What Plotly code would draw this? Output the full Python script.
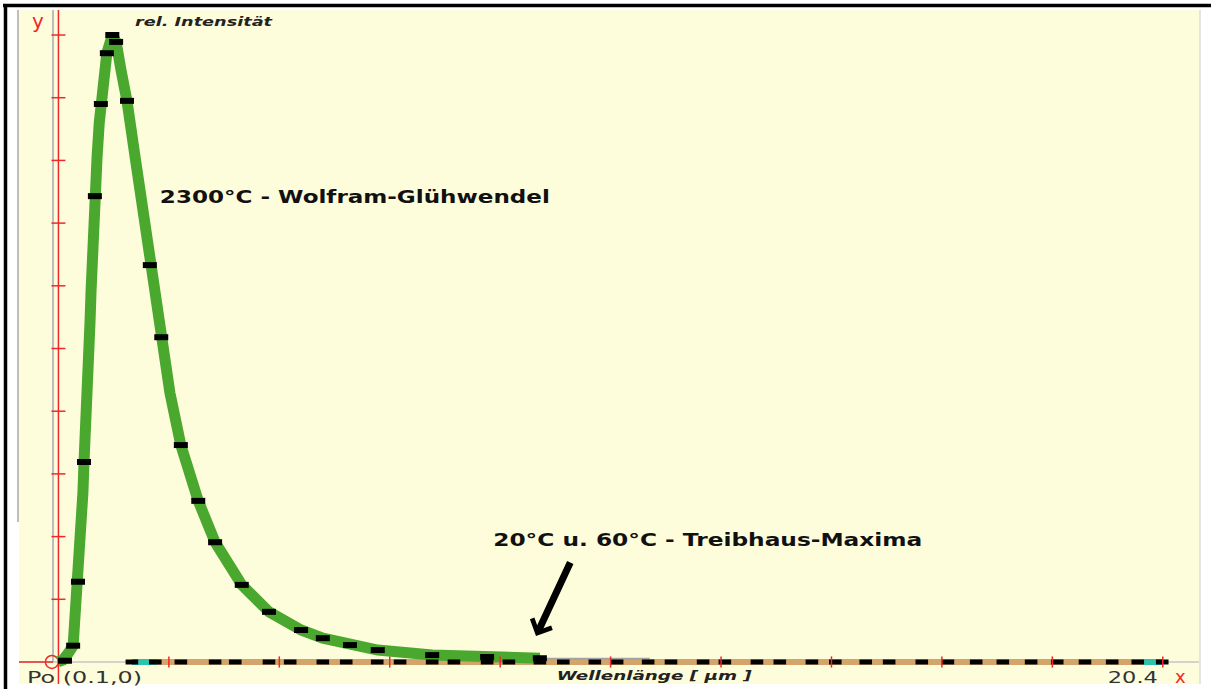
import json
import plotly.graph_objects as go

# ---------------- data ----------------
# 2300 °C curve (Wolfram-Glühwendel): wavelength [µm], relative intensity
wl_2300 = [0.09, 0.18, 0.28, 0.37, 0.40, 0.44, 0.46, 0.50, 0.52, 0.55, 0.57, 0.61, 0.64, 0.65,
           0.68, 0.70, 0.74, 0.77, 0.81, 0.85, 0.88, 0.94, 0.99, 1.09, 1.16, 1.25, 1.36, 1.51,
           1.60, 1.65, 1.78, 1.91, 1.99, 2.08, 2.15, 2.35, 2.67, 2.98, 3.47, 3.97, 4.56, 4.96,
           5.46, 5.97, 6.97, 7.98, 8.95]
int_2300 = [0.000, 0.003, 0.014, 0.026, 0.067, 0.110, 0.128, 0.163, 0.215, 0.270, 0.319, 0.375,
            0.429, 0.466, 0.541, 0.593, 0.646, 0.743, 0.805, 0.860, 0.890, 0.936, 0.971, 1.000,
            0.989, 0.944, 0.895, 0.805, 0.753, 0.700, 0.633, 0.566, 0.518, 0.474, 0.429, 0.346,
            0.257, 0.191, 0.123, 0.080, 0.051, 0.038, 0.027, 0.019, 0.011, 0.008, 0.006]

# sample points drawn on the 2300 °C curve
pts_2300_wl = [0.22, 0.37, 0.46, 0.57, 0.77, 0.88, 0.99, 1.09, 1.16, 1.36, 1.78, 1.99, 2.35, 2.67,
               2.98, 3.47, 3.97, 4.56, 4.96, 5.46, 5.97, 6.97, 7.98, 8.95]
pts_2300_int = [0.002, 0.026, 0.128, 0.319, 0.743, 0.890, 0.971, 1.000, 0.989, 0.895, 0.633, 0.518,
                0.346, 0.257, 0.191, 0.123, 0.080, 0.051, 0.038, 0.027, 0.019, 0.011, 0.008, 0.006]

# thin grey tail of the curve
tail_wl = [8.95, 10.97]
tail_int = [0.005, 0.005]

# 60 °C curve (cyan) and 20 °C curve (tan) – practically zero on this scale
wl_60 = [1.45, 20.39]
int_60 = [0.0, 0.0]
wl_20 = [1.93, 20.04]
int_20 = [0.0, 0.0]

# sample points drawn on the 20 °C / 60 °C curves
pts_low_a = [1.45, 2.35, 2.98, 3.97, 4.96, 5.96, 6.97, 7.98, 8.95, 9.96, 10.94, 11.95, 12.94,
             13.95, 14.94, 15.97, 16.97, 17.98, 18.97, 19.94]
pts_low_b = [1.88, 3.35, 4.36, 5.39, 6.38, 7.37, 8.38, 9.38, 10.37, 11.36, 12.35, 13.36, 14.38,
             15.37, 16.45, 17.46, 18.46, 19.47, 20.39]

# scale marks
x_marks = [2.13, 4.16, 6.19, 8.22, 10.25, 12.28, 14.31, 16.34, 18.37, 20.4]
y_marks = [0.1, 0.2, 0.3, 0.4, 0.5, 0.6, 0.7, 0.8, 0.9, 1.0]
x_line_at = 0.1            # red vertical line through Po (0.1, 0)
x_min, x_max = -0.625, 21.066
y_min, y_max = -0.0351, 1.0399

# ---------------- layout helpers ----------------
W, H = 1211, 689
L, R, T, B = 19, 12, 10, 5
PW, PH = W - L - R, H - T - B


def px(x):
    return (x - L) / PW


def py(y):
    return (H - B - y) / PH


YELLOW = "#FEFDDB"
GREEN = "#4AA82E"
TAN = "#D4A56B"
CYAN = "#2EC1AE"
RED = "#F0282A"

fig = go.Figure()

# axes (grey)
fig.add_trace(go.Scatter(x=[x_min, x_max], y=[0, 0], mode="lines",
                         line=dict(color="#C4C4C4", width=1.5), hoverinfo="skip"))
fig.add_trace(go.Scatter(x=[0, 0], y=[0, y_max], mode="lines",
                         line=dict(color="#BDBDBD", width=2), hoverinfo="skip"))
# red line x = 0.1 and red negative x-axis part
fig.add_trace(go.Scatter(x=[x_line_at, x_line_at], y=[y_min, y_max], mode="lines",
                         line=dict(color=RED, width=1.5), hoverinfo="skip"))
fig.add_trace(go.Scatter(x=[x_min, 0], y=[0, 0], mode="lines",
                         line=dict(color=RED, width=1.5), hoverinfo="skip"))
fig.add_trace(go.Scatter(x=[-0.02], y=[0], mode="markers",
                         marker=dict(symbol="circle-open", size=13, color=RED,
                                     line=dict(color=RED, width=1.5)), hoverinfo="skip"))
fig.add_trace(go.Scatter(x=[x_line_at] * len(y_marks), y=y_marks, mode="markers",
                         marker=dict(symbol="line-ew", size=10, color=RED,
                                     line=dict(color=RED, width=1.5)), hoverinfo="skip"))

# low temperature curves
fig.add_trace(go.Scatter(x=wl_60, y=int_60, mode="lines",
                         line=dict(color=CYAN, width=6), hoverinfo="skip"))
fig.add_trace(go.Scatter(x=wl_20, y=int_20, mode="lines",
                         line=dict(color=TAN, width=6), hoverinfo="skip"))
fig.add_trace(go.Scatter(x=tail_wl, y=tail_int, mode="lines",
                         line=dict(color="#A3A3A3", width=2), hoverinfo="skip"))

# 2300 °C curve
fig.add_trace(go.Scatter(x=wl_2300, y=int_2300, mode="lines",
                         line=dict(color=GREEN, width=11), hoverinfo="skip"))
fig.add_trace(go.Scatter(x=pts_2300_wl, y=pts_2300_int, mode="markers",
                         marker=dict(symbol="line-ew", size=10, color="black",
                                     line=dict(color="black", width=6)), hoverinfo="skip"))
fig.add_trace(go.Scatter(x=pts_low_a + pts_low_b, y=[0] * (len(pts_low_a) + len(pts_low_b)),
                         mode="markers",
                         marker=dict(symbol="line-ew", size=9, color="black",
                                     line=dict(color="black", width=5)), hoverinfo="skip"))
# red scale marks on the x-axis
fig.add_trace(go.Scatter(x=x_marks, y=[0] * len(x_marks), mode="markers",
                         marker=dict(symbol="line-ns", size=8, color=RED,
                                     line=dict(color=RED, width=1.5)), hoverinfo="skip"))

ann = []
widths = {}


def text(s, cx, cy, size, color="#1a1a1a", bold=False, italic=False, width=None):
    ann.append(dict(text=s, x=px(cx), y=py(cy), xref="paper", yref="paper",
                    showarrow=False, xanchor="center", yanchor="middle",
                    font=dict(family="DejaVu Sans", size=size, color=color,
                              weight="bold" if bold else "normal",
                              style="italic" if italic else "normal")))
    if width:
        widths[s] = width


text("y", 38, 21, 20, color=RED)
text("rel. Intensität", 203.5, 22, 13, color="#222", bold=True, italic=True, width=137)
text("2300°C - Wolfram-Glühwendel", 355, 197, 17, color="#111", bold=True, width=390)
text("20°C u. 60°C - Treibhaus-Maxima", 707.5, 540, 17, color="#111", bold=True, width=429)
text("Po (0.1,0)", 84.5, 677, 16, color="#333", width=115)
text("Wellenlänge [ µm ]", 654.5, 675, 13, color="#222", bold=True, italic=True, width=195)
text("20.4", 1133, 677, 16, color="#333", width=50)
text("x", 1180, 676, 18, color=RED)

# hand drawn arrow
ann.append(dict(x=(536 - 53) / 54.4, y=(662 - 636) / 627,
                ax=(571 - 53) / 54.4, ay=(662 - 561) / 627,
                xref="x", yref="y", axref="x", ayref="y", text="",
                showarrow=True, arrowhead=4, arrowwidth=7, arrowsize=0.6,
                arrowcolor="black"))

shapes = [
    # black frame top and left
    dict(type="line", xref="paper", yref="paper", x0=px(3), x1=px(1211), y0=py(5.5), y1=py(5.5),
         line=dict(color="black", width=3.5)),
    dict(type="line", xref="paper", yref="paper", x0=px(5.5), x1=px(5.5), y0=py(4), y1=py(689),
         line=dict(color="black", width=3.5)),
    # grey panel edges
    dict(type="line", xref="paper", yref="paper", x0=px(18), x1=px(18), y0=py(10), y1=py(522),
         line=dict(color="#A8A8A8", width=1.5)),
    dict(type="line", xref="paper", yref="paper", x0=px(1200), x1=px(1200), y0=py(10), y1=py(684),
         line=dict(color="#E4E4E0", width=2)),
]

fig.update_layout(
    width=W, height=H,
    margin=dict(l=L, r=R, t=T, b=B, pad=0),
    paper_bgcolor="white", plot_bgcolor=YELLOW,
    showlegend=False,
    xaxis=dict(range=[x_min, x_max], visible=False, fixedrange=True),
    yaxis=dict(range=[y_min, y_max], visible=False, fixedrange=True),
    annotations=ann, shapes=shapes,
)

post = """
document.documentElement.style.margin='0';
document.body.style.margin='0';
document.body.style.padding='0';
document.body.style.overflow='hidden';
var gd = document.getElementById('{plot_id}');
var widths = WIDTHS;
gd.querySelectorAll('text.annotation-text').forEach(function(t){
  var w = widths[t.textContent.trim()];
  if (w) { t.setAttribute('textLength', w); t.setAttribute('lengthAdjust', 'spacingAndGlyphs'); }
});
""".replace("WIDTHS", json.dumps(widths))

fig.write_html("out.html", post_script=post, config={"displayModeBar": False})
